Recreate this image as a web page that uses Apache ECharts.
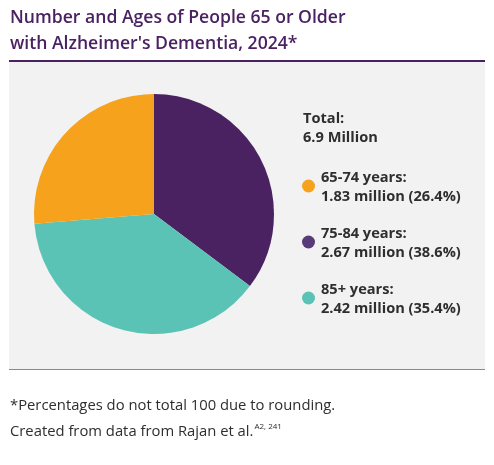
<!DOCTYPE html>
<html>
<head>
<meta charset="utf-8">
<script src="https://cdn.jsdelivr.net/npm/echarts@6/dist/echarts.min.js"></script>
<style>
  html, body { margin: 0; padding: 0; background: #fff; }
  #chart { width: 494px; height: 465px; }
</style>
</head>
<body>
<div id="chart"></div>
<script>
// 凡例に出す年齢層と値
const ageGroups = ['65-74 years', '75-84 years', '85+ years'];
const millions = [1.83, 2.67, 2.42];
const shares = [26.4, 38.6, 35.4];
const legendColors = ['#f7a21d', '#583a78', '#5bc3b5'];
const totalText = '6.9 Million';

// 円グラフの扇形（画像から読み取った角度の割合、12時から時計回り）
// ※元画像では紫の扇形が約35%、緑の扇形が約39%で描かれている
const sliceValues = [35.4, 38.6, 26.4];
const sliceColors = ['#4a2262', '#5bc3b5', '#f7a21d'];

const font = '"Open Sans", Lato, sans-serif';
const textColor = '#2e2e2e';

const chart = echarts.init(document.getElementById('chart'));

// 凡例部分（丸＋2行のテキスト）
const legendGraphics = [];
ageGroups.forEach((name, i) => {
  const y = 186 + i * 56;
  legendGraphics.push({
    type: 'circle',
    shape: { cx: 308.5, cy: y, r: 6.5 },
    style: { fill: legendColors[i] }
  });
  legendGraphics.push({
    type: 'text',
    x: 321,
    y: y - 18,
    style: {
      text: name + ':\n' + millions[i].toFixed(2) + ' million (' + shares[i].toFixed(1) + '%)',
      font: 'bold 14.6px ' + font,
      lineHeight: 19,
      fill: textColor
    }
  });
});

chart.setOption({
  animation: false,
  title: {
    text: 'Number and Ages of People 65 or Older\nwith Alzheimer\'s Dementia, 2024*',
    left: 10,
    top: 5,
    padding: 0,
    textStyle: {
      fontFamily: font,
      fontWeight: 600,
      fontSize: 17.6,
      lineHeight: 26,
      color: '#4a2262'
    }
  },
  series: [
    {
      type: 'pie',
      center: [154, 214],
      radius: 120,
      startAngle: 90,
      clockwise: true,
      silent: true,
      label: { show: false },
      labelLine: { show: false },
      data: sliceValues.map((v, i) => ({
        value: v,
        itemStyle: { color: sliceColors[i] }
      }))
    }
  ],
  graphic: [
    // 灰色の背景
    {
      type: 'rect',
      z: -10,
      shape: { x: 9, y: 61, width: 476, height: 308 },
      style: { fill: '#f2f2f2' }
    },
    // タイトル下の紫の線
    {
      type: 'line',
      shape: { x1: 9, y1: 61, x2: 485, y2: 61 },
      style: { stroke: '#4a2262', lineWidth: 2 }
    },
    // 下の灰色の線
    {
      type: 'line',
      shape: { x1: 9, y1: 369.5, x2: 485, y2: 369.5 },
      style: { stroke: '#8a8a8a', lineWidth: 1 }
    },
    {
      type: 'text',
      x: 303,
      y: 109,
      style: {
        text: 'Total:\n' + totalText,
        font: 'bold 14.6px ' + font,
        lineHeight: 19,
        fill: textColor
      }
    },
    ...legendGraphics,
    // 注記
    {
      type: 'text',
      x: 10,
      y: 406,
      style: {
        text: '*Percentages do not total 100 due to rounding.',
        font: '14.8px ' + font,
        fill: textColor,
        verticalAlign: 'middle'
      }
    },
    {
      type: 'text',
      x: 10,
      y: 432,
      style: {
        text: '{h|Created from data from Rajan et al.}{s|A2, 241}',
        font: '14.8px ' + font,
        verticalAlign: 'middle',
        rich: {
          h: { fontSize: 14.8, fontFamily: font, fill: textColor },
          s: { fontSize: 8, fontFamily: font, fill: textColor, padding: [0, 0, 10, 1] }
        }
      }
    }
  ]
});
</script>
</body>
</html>
